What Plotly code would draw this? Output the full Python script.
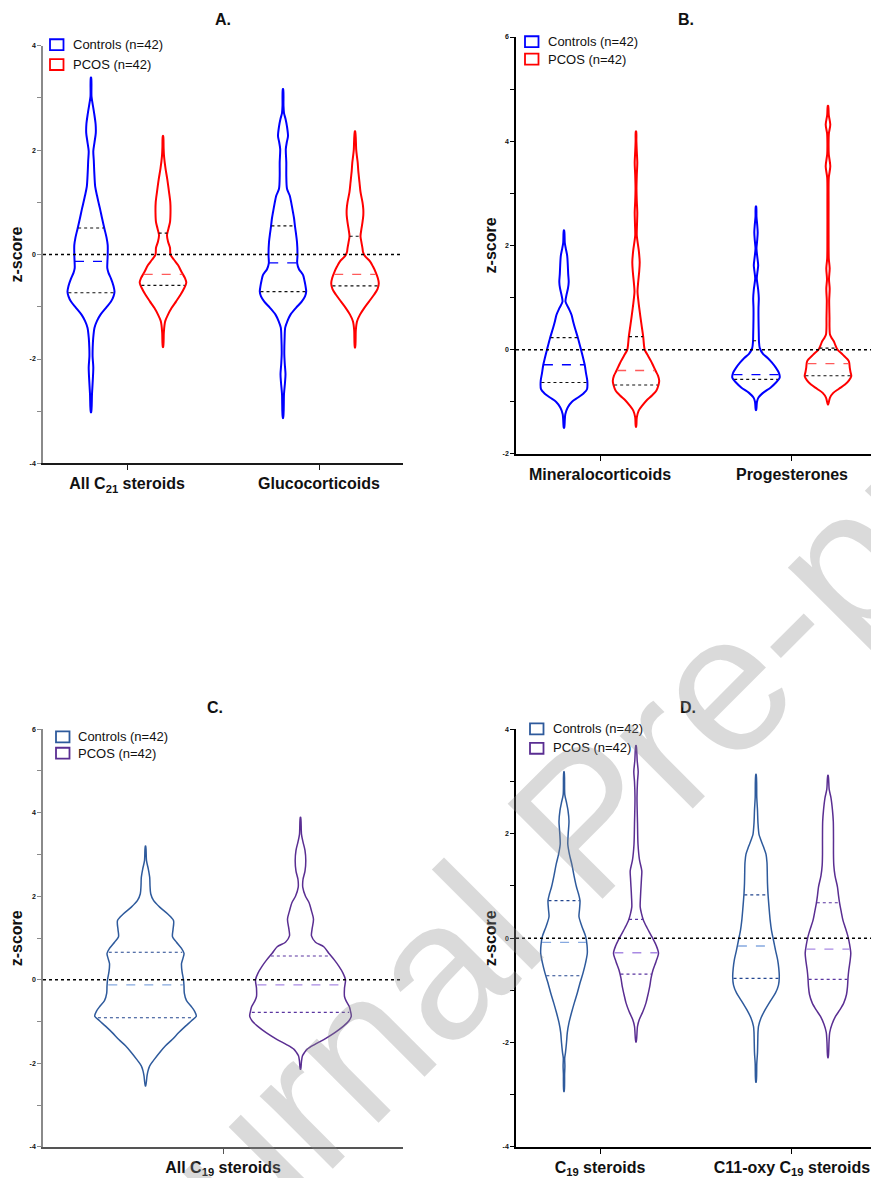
import numpy as np
import plotly.graph_objects as go

W, H = 871, 1178
FONT = "Liberation Sans, Arial, Helvetica, sans-serif"

# ============================ DATA ============================
# Category labels
A_categories = ["All C<sub>21</sub> steroids", "Glucocorticoids"]
B_categories = ["Mineralocorticoids", "Progesterones"]
C_categories = ["All C<sub>19</sub> steroids"]
D_categories = ["C<sub>19</sub> steroids", "C11-oxy C<sub>19</sub> steroids"]
group_labels = ["Controls (n=42)", "PCOS (n=42)"]
panel_titles = ["A.", "B.", "C.", "D."]

# Violin density profiles: (z-score, density half-width)
# Quartiles: (Q1, median, Q3)
A_ctrl_c21 = [(-3.02,0.2),(-2.67,1.0),(-2.4,1.8),(-2.16,2.3),(-1.95,1.6),(-1.78,1.7),(-1.6,2.2),(-1.4,3.5),(-1.27,6.0),(-1.15,9.5),(-1.02,15.0),(-0.9,20.0),(-0.8,22.5),(-0.71,23.5),(-0.6,22.5),(-0.46,20.0),(-0.35,17.5),(-0.26,16.3),(-0.1,16.5),(0.0,16.7),(0.18,16.7),(0.33,15.5),(0.49,13.5),(0.7,11.0),(0.88,9.0),(1.0,7.5),(1.13,6.0),(1.3,4.2),(1.57,3.3),(1.8,2.8),(1.98,2.3),(2.15,3.5),(2.33,4.8),(2.5,4.6),(2.7,3.2),(2.9,1.5),(3.03,0.5),(3.39,0.2)]
A_ctrl_c21_q = (-0.73, -0.13, 0.51)
A_pcos_c21 = [(-1.77,0.2),(-1.5,0.8),(-1.35,1.5),(-1.27,2.3),(-1.15,5.0),(-1.02,8.7),(-0.9,13.0),(-0.77,17.5),(-0.65,21.0),(-0.54,23.3),(-0.45,22.0),(-0.35,19.0),(-0.2,15.0),(-0.1,11.0),(0.0,7.5),(0.13,7.0),(0.25,5.0),(0.37,4.0),(0.5,5.5),(0.62,7.0),(0.8,7.5),(1.0,7.3),(1.2,6.0),(1.44,4.3),(1.65,2.5),(1.89,1.0),(2.05,0.6),(2.27,0.2)]
A_pcos_c21_q = (-0.59, -0.38, 0.41)
A_ctrl_gc = [(-3.13,0.2),(-2.67,1.0),(-2.45,2.0),(-2.29,2.5),(-2.1,1.8),(-1.9,1.3),(-1.6,1.6),(-1.4,2.2),(-1.27,4.5),(-1.15,7.5),(-1.02,13.0),(-0.9,18.7),(-0.8,22.0),(-0.71,23.2),(-0.6,22.5),(-0.5,21.5),(-0.39,20.0),(-0.28,16.0),(-0.17,14.2),(0.0,14.5),(0.24,14.0),(0.4,13.0),(0.54,12.0),(0.7,11.0),(0.81,10.0),(1.0,8.2),(1.13,6.7),(1.26,4.0),(1.5,3.3),(1.77,3.3),(2.02,2.8),(2.15,3.8),(2.27,5.0),(2.45,4.0),(2.6,2.5),(2.71,1.0),(2.85,0.5),(3.17,0.2)]
A_ctrl_gc_q = (-0.71, -0.16, 0.55)
A_pcos_gc = [(-1.78,0.2),(-1.45,0.8),(-1.28,2.0),(-1.15,5.0),(-1.03,9.0),(-0.9,14.0),(-0.77,19.0),(-0.66,22.5),(-0.55,23.8),(-0.45,22.8),(-0.33,20.5),(-0.23,18.0),(-0.13,15.0),(-0.03,10.0),(0.05,8.0),(0.12,7.5),(0.23,6.5),(0.35,5.5),(0.5,6.5),(0.62,7.5),(0.75,8.3),(0.87,8.3),(1.0,7.5),(1.2,5.5),(1.38,4.5),(1.6,3.3),(1.76,2.7),(1.9,1.8),(2.01,1.2),(2.36,0.2)]
A_pcos_gc_q = (-0.60, -0.38, 0.35)

B_ctrl_min = [(-1.5,0.2),(-1.35,0.8),(-1.24,1.3),(-1.11,3.7),(-1.0,8.0),(-0.92,14.0),(-0.84,19.5),(-0.76,23.0),(-0.6,23.3),(-0.45,22.0),(-0.29,20.7),(-0.15,19.0),(0.0,17.0),(0.22,14.0),(0.41,11.0),(0.55,9.0),(0.67,7.5),(0.8,4.5),(0.92,1.5),(1.05,2.5),(1.18,4.0),(1.3,4.7),(1.45,4.2),(1.62,3.8),(1.8,3.2),(1.94,1.8),(2.05,0.8),(2.29,0.2)]
B_ctrl_min_q = (-0.63, -0.29, 0.23)
B_pcos_min = [(-1.48,0.2),(-1.3,0.8),(-1.17,2.7),(-1.08,6.0),(-0.98,10.3),(-0.88,16.0),(-0.79,20.3),(-0.68,22.5),(-0.6,23.2),(-0.5,22.0),(-0.41,19.7),(-0.3,17.0),(-0.22,15.0),(-0.1,11.5),(0.0,8.7),(0.25,7.2),(0.48,5.5),(0.79,3.3),(0.95,2.3),(1.11,1.5),(1.3,2.2),(1.5,3.2),(1.68,3.7),(1.9,2.8),(2.19,0.8),(2.4,1.0),(2.63,1.3),(2.85,0.8),(3.08,0.5),(3.35,0.8),(3.59,1.3),(3.8,0.8),(4.0,0.4),(4.19,0.2)]
B_pcos_min_q = (-0.68, -0.40, 0.25)
B_ctrl_prog = [(-1.16,0.2),(-1.0,1.0),(-0.92,2.5),(-0.83,7.0),(-0.73,14.5),(-0.63,20.0),(-0.54,23.7),(-0.45,23.0),(-0.35,20.0),(-0.25,16.0),(-0.16,11.7),(-0.08,7.0),(0.03,3.8),(0.15,3.0),(0.29,2.8),(0.6,2.5),(0.8,2.5),(0.98,2.8),(1.15,2.2),(1.37,0.8),(1.5,1.5),(1.62,2.2),(1.78,1.3),(1.94,0.5),(2.1,1.2),(2.25,1.7),(2.4,1.2),(2.55,0.5),(2.75,0.2)]
B_ctrl_prog_q = (-0.57, -0.48, 0.17)
B_pcos_prog = [(-1.05,0.2),(-0.92,2.0),(-0.83,5.3),(-0.75,11.0),(-0.67,17.0),(-0.59,21.0),(-0.51,23.3),(-0.43,22.5),(-0.35,21.8),(-0.22,20.8),(-0.1,15.0),(0.0,9.5),(0.08,7.5),(0.16,5.8),(0.23,3.5),(0.29,2.0),(0.45,1.5),(0.6,1.5),(0.8,1.3),(0.95,1.2),(1.17,1.7),(1.35,1.0),(1.56,1.7),(1.75,0.8),(2.2,0.6),(2.8,0.6),(3.3,0.8),(3.52,2.3),(3.75,0.8),(3.97,0.6),(4.15,0.9),(4.32,2.3),(4.5,0.8),(4.68,0.2)]
B_pcos_prog_q = (-0.50, -0.27, 0.03)

C_ctrl_c19 = [(-2.54,0.2),(-2.3,1.5),(-2.18,2.5),(-2.06,4.2),(-1.9,9.0),(-1.74,14.2),(-1.58,20.0),(-1.43,26.7),(-1.27,33.0),(-1.11,40.0),(-0.98,46.0),(-0.87,50.8),(-0.75,49.0),(-0.64,45.8),(-0.5,41.0),(-0.32,38.8),(-0.15,38.5),(0.0,38.0),(0.2,36.5),(0.39,36.0),(0.52,37.5),(0.63,38.5),(0.75,36.0),(0.9,31.0),(1.03,27.0),(1.2,27.5),(1.42,28.0),(1.58,22.0),(1.74,14.2),(1.9,8.0),(2.06,5.2),(2.25,4.5),(2.45,4.2),(2.65,2.8),(2.85,1.0),(3.2,0.2)]
C_ctrl_c19_q = (-0.91, -0.12, 0.66)
C_pcos_c19 = [(-2.14,0.2),(-1.95,1.0),(-1.82,2.0),(-1.74,4.0),(-1.66,6.7),(-1.55,14.0),(-1.43,23.3),(-1.27,34.0),(-1.11,43.0),(-0.98,48.5),(-0.87,50.8),(-0.75,50.0),(-0.64,48.8),(-0.5,45.5),(-0.4,44.0),(-0.2,44.0),(0.0,45.0),(0.16,42.5),(0.32,38.5),(0.47,34.0),(0.63,28.5),(0.79,23.3),(0.9,15.0),(1.05,11.0),(1.2,11.5),(1.45,13.0),(1.65,11.0),(1.85,8.5),(2.0,5.0),(2.21,2.3),(2.4,2.5),(2.6,4.5),(2.85,5.3),(3.1,4.5),(3.3,2.5),(3.48,1.0),(3.89,0.2)]
C_pcos_c19_q = (-0.78, -0.12, 0.57)

D_ctrl_c19 = [(-2.94,0.2),(-2.6,0.6),(-2.45,0.9),(-2.3,0.7),(-2.19,1.5),(-2.0,2.5),(-1.81,3.3),(-1.62,5.0),(-1.43,7.5),(-1.24,10.3),(-1.05,13.3),(-0.86,16.0),(-0.67,19.0),(-0.48,21.5),(-0.29,23.3),(-0.13,23.0),(0.03,21.7),(0.22,18.0),(0.41,15.0),(0.55,15.5),(0.72,16.0),(0.85,14.5),(0.98,12.5),(1.2,10.0),(1.42,7.8),(1.6,5.5),(1.8,3.8),(2.0,4.2),(2.24,5.0),(2.45,4.0),(2.6,2.5),(2.75,0.8),(3.19,0.2)]
D_ctrl_c19_q = (-0.72, -0.08, 0.72)
D_pcos_c19 = [(-1.99,0.2),(-1.69,1.5),(-1.56,3.3),(-1.4,7.0),(-1.24,10.0),(-1.08,12.0),(-0.93,13.7),(-0.77,15.0),(-0.61,17.0),(-0.45,20.0),(-0.29,22.5),(-0.13,20.0),(0.03,15.8),(0.2,11.0),(0.34,7.5),(0.47,5.5),(0.6,4.2),(0.8,4.5),(0.98,5.0),(1.15,5.5),(1.29,5.8),(1.5,3.5),(1.8,2.0),(2.2,1.5),(2.69,1.0),(3.0,1.5),(3.19,2.2),(3.4,1.2),(3.69,0.2)]
D_pcos_c19_q = (-0.69, -0.28, 0.36)
D_ctrl_c11 = [(-2.76,0.2),(-2.4,0.8),(-2.19,1.5),(-1.95,1.8),(-1.8,2.0),(-1.69,2.5),(-1.53,5.0),(-1.37,9.2),(-1.2,14.5),(-1.05,19.5),(-0.9,22.5),(-0.74,23.3),(-0.58,22.8),(-0.42,21.7),(-0.23,19.5),(-0.04,17.5),(0.15,15.5),(0.34,14.2),(0.6,13.0),(0.85,12.0),(1.05,11.5),(1.23,11.3),(1.45,11.0),(1.61,10.0),(1.75,7.5),(1.9,4.5),(1.99,3.0),(2.2,2.0),(2.45,1.5),(2.69,0.8),(3.14,0.2)]
D_ctrl_c11_q = (-0.77, -0.15, 0.83)
D_pcos_c11 = [(-2.29,0.2),(-2.0,1.0),(-1.81,1.7),(-1.65,4.0),(-1.5,7.5),(-1.37,12.0),(-1.24,15.8),(-1.08,18.5),(-0.93,19.5),(-0.77,20.0),(-0.61,20.8),(-0.45,22.0),(-0.29,22.8),(-0.13,21.7),(0.03,20.0),(0.19,17.5),(0.34,15.0),(0.5,13.3),(0.66,11.7),(0.82,10.5),(0.98,9.5),(1.2,7.0),(1.4,5.8),(1.61,5.5),(1.9,5.5),(2.24,5.3),(2.45,4.5),(2.69,3.0),(2.85,1.2),(3.12,0.2)]
D_pcos_c11_q = (-0.79, -0.21, 0.68)

# ============================ STYLE ============================
DENS_SCALE = 1 / 192.0   # density units -> x-axis units
BLUE, RED = "#0000FF", "#FF0000"
STEEL, PURPLE = "#2E5A9C", "#5A2E92"

panels = [
    dict(x="x", y="y", cats=A_categories, catpos=[0, 1], off=0.1875,
         violins=[[(A_ctrl_c21, A_ctrl_c21_q), (A_pcos_c21, A_pcos_c21_q)],
                  [(A_ctrl_gc, A_ctrl_gc_q), (A_pcos_gc, A_pcos_gc_q)]],
         colors=(BLUE, RED), med=(BLUE, "#FF5A5A"), qcol=("#111111", "#111111"), lw=2.0,
         xdom=(43, 403), ydom=(463, 42), xr=[-0.4375, 1.4375], yr=[-4, 4],
         ylc="#8a8a8a", xlc="#1a1a1a", title_xy=(223, 16), ytitle_xy=(17, 252.5),
         leg=(50, 35.5, 55.5, 71, 41, 60.5)),
    dict(x="x2", y="y2", cats=B_categories, catpos=[0, 1], off=0.1875,
         violins=[[(B_ctrl_min, B_ctrl_min_q), (B_pcos_min, B_pcos_min_q)],
                  [(B_ctrl_prog, B_ctrl_prog_q), (B_pcos_prog, B_pcos_prog_q)]],
         colors=(BLUE, RED), med=(BLUE, "#FF5A5A"), qcol=("#111111", "#111111"), lw=2.0,
         xdom=(516, 871), ydom=(453.3, 33.3), xr=[-0.4375, 1.4115], yr=[-2, 6],
         ylc="#000000", xlc="#000000", title_xy=(686, 16), ytitle_xy=(490, 243.3),
         leg=(525, 32.5, 50, 546, 38, 55.5)),
    dict(x="x3", y="y3", cats=C_categories, catpos=[0], off=0.4036,
         violins=[[(C_ctrl_c19, C_ctrl_c19_q), (C_pcos_c19, C_pcos_c19_q)]],
         colors=(STEEL, PURPLE), med=("#86A9E0", "#A98AE3"), qcol=("#23468F", "#5A35A0"), lw=1.5,
         xdom=(43, 403), ydom=(1151.7, 730.7), xr=[-0.9375, 0.9375], yr=[-4, 6],
         ylc="#8a8a8a", xlc="#555555", title_xy=(215, 709), ytitle_xy=(16, 941.5),
         leg=(56, 733, 749.5, 76, 738.5, 755)),
    dict(x="x4", y="y4", cats=D_categories, catpos=[0, 1], off=0.1875,
         violins=[[(D_ctrl_c19, D_ctrl_c19_q), (D_pcos_c19, D_pcos_c19_q)],
                  [(D_ctrl_c11, D_ctrl_c11_q), (D_pcos_c11, D_pcos_c11_q)]],
         colors=(STEEL, PURPLE), med=("#86A9E0", "#A98AE3"), qcol=("#23468F", "#5A35A0"), lw=1.5,
         xdom=(516, 871), ydom=(1151.7, 731), xr=[-0.4375, 1.4115], yr=[-4, 4],
         ylc="#000000", xlc="#000000", title_xy=(688, 709), ytitle_xy=(490, 941.5),
         leg=(530, 725, 744.5, 551, 730.5, 749.5)),
]


def px_x(px):
    return px / W


def px_y(py):
    return 1 - py / H


fig = go.Figure()
shapes, annotations = [], []
layout_axes = {}

for pi, p in enumerate(panels):
    for ci, cat_violins in enumerate(p["violins"]):
        for gi, (profile, quart) in enumerate(cat_violins):
            center = p["catpos"][ci] + (-p["off"] if gi == 0 else p["off"])
            z = np.array([a for a, b in profile])
            d = np.array([b for a, b in profile]) * DENS_SCALE
            xs = np.concatenate([center - d, (center + d)[::-1], [center - d[0]]])
            ys = np.concatenate([z, z[::-1], [z[0]]])
            fig.add_trace(go.Scatter(
                x=xs, y=ys, mode="lines", xaxis=p["x"], yaxis=p["y"],
                line=dict(color=p["colors"][gi], width=p["lw"], shape="spline", smoothing=0.8),
                showlegend=False, hoverinfo="skip"))
            # quartile + median lines
            for qi, qv in enumerate(quart):
                hw = np.interp(qv, z, d) * 0.97
                if qi == 1:
                    col, dash, wd = p["med"][gi], "dash", 1.3
                else:
                    col, dash, wd = p["qcol"][gi], "dot", 1.1
                fig.add_trace(go.Scatter(
                    x=[center - hw, center + hw], y=[qv, qv], mode="lines",
                    xaxis=p["x"], yaxis=p["y"],
                    line=dict(color=col, width=wd, dash=dash),
                    showlegend=False, hoverinfo="skip"))

    sfx = "" if pi == 0 else str(pi + 1)
    yvals = list(range(p["yr"][0], p["yr"][1] + 1, 2))
    layout_axes["xaxis" + sfx] = dict(
        domain=[px_x(p["xdom"][0]), px_x(p["xdom"][1])], range=p["xr"], anchor=p["y"],
        showline=True, linecolor=p["xlc"], linewidth=1.6, ticks="outside", ticklen=5,
        tickwidth=1.4, tickcolor=p["xlc"], tickvals=p["catpos"],
        ticktext=["<b>%s</b>" % c for c in p["cats"]],
        tickfont=dict(family=FONT, size=16, color="#111111"),
        showgrid=False, zeroline=False, fixedrange=True)
    layout_axes["yaxis" + sfx] = dict(
        domain=[px_y(p["ydom"][0]), px_y(p["ydom"][1])], range=p["yr"], anchor=p["x"],
        showline=True, linecolor=p["ylc"], linewidth=1.6, ticks="outside", ticklen=4,
        tickwidth=1.2, tickcolor=p["ylc"], tickmode="array", tickvals=yvals,
        ticktext=["<b>%d</b>" % v for v in yvals],
        tickfont=dict(family=FONT, size=7, color="#111111"),
        minor=dict(ticks="outside", ticklen=4, tickwidth=1.2, tickcolor=p["ylc"],
                   tickmode="linear", tick0=0, dtick=1, showgrid=False),
        showgrid=False, zeroline=False, fixedrange=True)

    # zero reference line
    shapes.append(dict(type="line", xref=p["x"] + " domain", yref=p["y"], x0=0, x1=1, y0=0, y1=0,
                       line=dict(color="#000000", width=1.5, dash="dot"), layer="above"))

    # panel title
    tx, ty = p["title_xy"]
    annotations.append(dict(text="<b>%s</b>" % panel_titles[pi], x=px_x(tx), y=px_y(ty),
                            xref="paper", yref="paper", showarrow=False,
                            xanchor="center", yanchor="middle",
                            font=dict(family=FONT, size=16, color="#111111")))
    # y-axis title
    yx, yy = p["ytitle_xy"]
    annotations.append(dict(text="<b>z-score</b>", x=px_x(yx), y=px_y(yy), xref="paper", yref="paper",
                            showarrow=False, textangle=-90, xanchor="center", yanchor="middle",
                            font=dict(family=FONT, size=16, color="#111111")))
    # legend
    bx, by1, by2, txx, ty1, ty2 = p["leg"]
    for gi, (byy, tyy) in enumerate([(by1, ty1), (by2, ty2)]):
        shapes.append(dict(type="rect", xref="paper", yref="paper",
                           x0=px_x(bx), x1=px_x(bx + 13.5), y0=px_y(byy), y1=px_y(byy + 11),
                           line=dict(color=p["colors"][gi], width=1.8), fillcolor="rgba(0,0,0,0)"))
        annotations.append(dict(text=group_labels[gi], x=px_x(txx), y=px_y(tyy),
                                xref="paper", yref="paper", showarrow=False,
                                xanchor="left", yanchor="middle",
                                font=dict(family=FONT, size=13, color="#111111")))

# watermark
annotations.append(dict(text="Journal Pre-proof", x=px_x(585), y=px_y(822), xref="paper", yref="paper",
                        showarrow=False, textangle=-45, xanchor="center", yanchor="middle",
                        font=dict(family=FONT, size=195, color="rgba(140,140,140,0.32)")))

fig.update_layout(
    width=W, height=H, autosize=False,
    margin=dict(l=0, r=0, t=0, b=0, pad=0),
    paper_bgcolor="white", plot_bgcolor="white",
    showlegend=False, shapes=shapes, annotations=annotations,
    **layout_axes)

fig.write_html("out.html", config={"displayModeBar": False},
               post_script="document.body.style.margin='0';")
